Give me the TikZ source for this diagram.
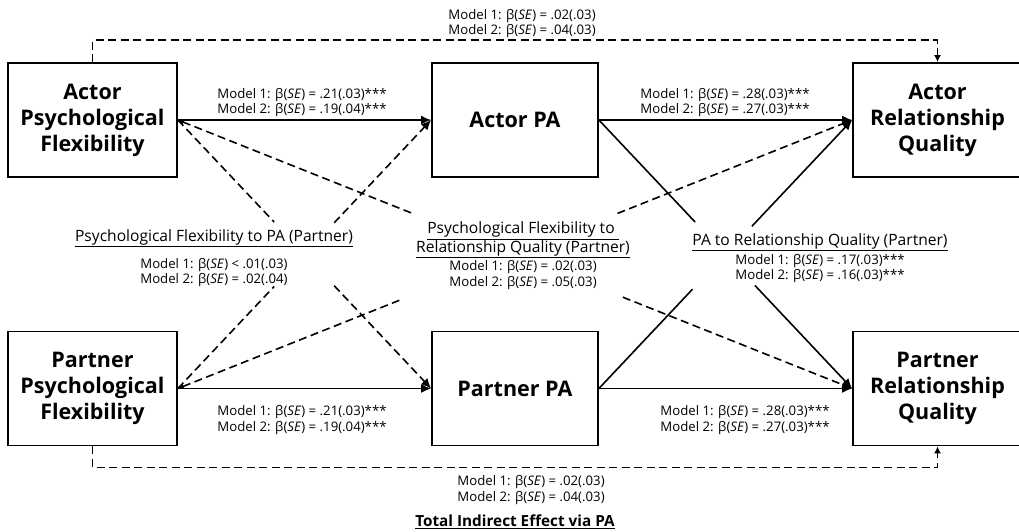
\documentclass[tikz,border=0pt]{standalone}
\usepackage{fontspec}
\setmainfont{Open Sans}
\usetikzlibrary{arrows.meta,calc}
\newcommand{\bse}{β(\textit{SE})}
\begin{document}
\begin{tikzpicture}[x=1pt,y=-1pt,
  box/.style={draw,line width=1.8pt,minimum width=169pt,minimum height=114pt,inner sep=0pt,align=center,font=\bfseries\fontsize{21.5}{26}\selectfont},
  lbl/.style={align=center,inner sep=0pt,font=\fontsize{13.2}{15.5}\selectfont},
  ttl/.style={align=center,inner sep=0pt,font=\fontsize{15.6}{16.5}\selectfont},
  conn/.style={line width=1.6pt},
  dsh/.style={line width=1.6pt,dash pattern=on 8pt off 4.5pt},
  tip/.style={-{Latex[length=10pt,width=9pt]}},
  stip/.style={-{Latex[length=7pt,width=7pt]}},
  btip/.style={{Latex[length=6pt,width=5pt]}-},
]
\fill[white] (0,0) rectangle (1019,532);
\useasboundingbox (0,0) rectangle (1019,532);

% boxes
\node[box] (APF) at (92.5,120) {Actor\\Psychological\\Flexibility};
\node[box,minimum width=166pt] (APA) at (515,120) {Actor PA};
\node[box] (ARQ) at (937.5,120) {Actor\\Relationship\\Quality};
\node[box] (PPF) at (92.5,388.5) {Partner\\Psychological\\Flexibility};
\node[box,minimum width=166pt] (PPA) at (515,388.5) {Partner PA};
\node[box] (PRQ) at (937.5,388.5) {Partner\\Relationship\\Quality};

% straight solid paths
\draw[conn,tip] (APF.east) -- (APA.west);
\draw[conn,tip] (APA.east) -- (ARQ.west);
\draw[conn,tip] (PPF.east) -- (PPA.west);
\draw[conn,tip] (PPA.east) -- (PRQ.west);

% PA to RQ partner (solid, gapped)
\draw[conn] (APA.east) -- ($(APA.east)!0.38!(PRQ.west)$);
\draw[conn,tip] ($(APA.east)!0.616!(PRQ.west)$) -- (PRQ.west);
\draw[conn] (PPA.east) -- ($(PPA.east)!0.37!(ARQ.west)$);
\draw[conn,tip] ($(PPA.east)!0.604!(ARQ.west)$) -- (ARQ.west);

% PF to PA partner (dashed, gapped)
\draw[dsh] (APF.east) -- ($(APF.east)!0.38!(PPA.west)$);
\draw[dsh,tip] ($(APF.east)!0.617!(PPA.west)$) -- (PPA.west);
\draw[dsh] (PPF.east) -- ($(PPF.east)!0.38!(APA.west)$);
\draw[dsh,tip] ($(PPF.east)!0.617!(APA.west)$) -- (APA.west);

% PF to RQ partner (dashed, gapped)
\draw[dsh,btip] (APF.east) -- ($(APF.east)!0.349!(PRQ.west)$);
\draw[dsh,tip] ($(APF.east)!0.66!(PRQ.west)$) -- (PRQ.west);
\draw[dsh,btip] (PPF.east) -- ($(PPF.east)!0.334!(ARQ.west)$);
\draw[dsh,tip] ($(PPF.east)!0.652!(ARQ.west)$) -- (ARQ.west);

% total indirect effects (dashed elbows)
\draw[dsh,stip] (APF.north) -- ++(0,-22) -| (ARQ.north);
\draw[dsh,stip] (PPF.south) -- ++(0,21) -| (PRQ.south);

% labels
\node[lbl] (Ltop) at (522,23.5) {Model 1: \bse{} = .02(.03)\\Model 2: \bse{} = .04(.03)};
\node[lbl] (La1) at (302,102.5) {Model 1: \bse{} = .21(.03)***\\Model 2: \bse{} = .19(.04)***};
\node[lbl] (La2) at (725,102.5) {Model 1: \bse{} = .28(.03)***\\Model 2: \bse{} = .27(.03)***};
\node[lbl] (Lp1) at (302,420) {Model 1: \bse{} = .21(.03)***\\Model 2: \bse{} = .19(.04)***};
\node[lbl] (Lp2) at (745,420) {Model 1: \bse{} = .28(.03)***\\Model 2: \bse{} = .27(.03)***};
\node[lbl] (Lbot) at (531,490) {Model 1: \bse{} = .02(.03)\\Model 2: \bse{} = .04(.03)};
\node[inner sep=0pt,font=\bfseries\fontsize{15.3}{17}\selectfont] (Ltot) at (515,522) {\underline{Total Indirect Effect via PA}};

\node[ttl] (T1) at (214,238) {\underline{Psychological Flexibility to PA (Partner)}};
\node[lbl] (M1) at (214,272.5) {Model 1: \bse{} < .01(.03)\\Model 2: \bse{} = .02(.04)};

\node[ttl] (T2) at (523,240) {\underline{Psychological Flexibility to\ }\\\underline{Relationship Quality (Partner)}};
\node[lbl] (M2) at (523,275) {Model 1: \bse{} = .02(.03)\\Model 2: \bse{} = .05(.03)};

\node[ttl] (T3) at (820,242) {\underline{PA to Relationship Quality (Partner)}};
\node[lbl] (M3) at (820,268.5) {Model 1: \bse{} = .17(.03)***\\Model 2: \bse{} = .16(.03)***};
\end{tikzpicture}
\end{document}
